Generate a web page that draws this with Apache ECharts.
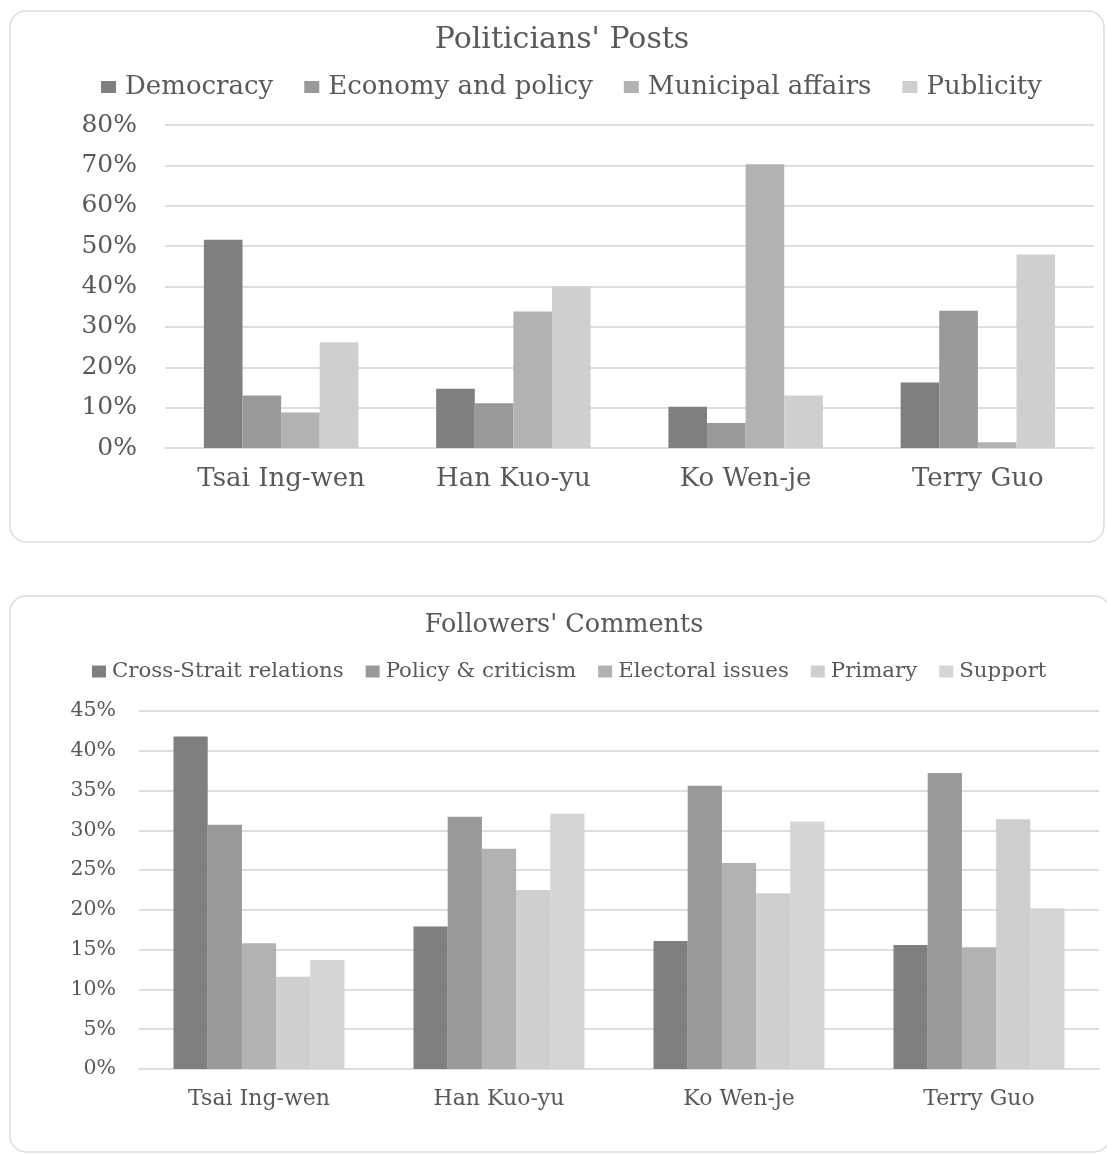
<!DOCTYPE html>
<html>
<head>
<meta charset="utf-8">
<title>Politicians' Posts / Followers' Comments</title>
<script src="https://cdn.jsdelivr.net/npm/echarts@6/dist/echarts.min.js"></script>
<style>
  html, body { margin: 0; padding: 0; background: #fff; }
  #chart { width: 1107px; height: 1155px; }
</style>
</head>
<body>
<div id="chart"></div>
<script>
// categories shared by both charts
const politicians = ['Tsai Ing-wen', 'Han Kuo-yu', 'Ko Wen-je', 'Terry Guo']

// Politicians' Posts (%)
const postNames = ['Democracy', 'Economy and policy', 'Municipal affairs', 'Publicity']
const postDemocracy = [51.6, 14.7, 10.2, 16.2]
const postEconomy = [13.0, 11.1, 6.2, 34.0]
const postMunicipal = [8.8, 33.8, 70.3, 1.4]
const postPublicity = [26.2, 40.0, 13.0, 47.9]
const postTicks = [0, 10, 20, 30, 40, 50, 60, 70, 80]

// Followers' Comments (%)
const commentNames = ['Cross-Strait relations', 'Policy & criticism', 'Electoral issues', 'Primary', 'Support']
const commentCross = [41.8, 17.9, 16.1, 15.6]
const commentPolicy = [30.7, 31.7, 35.6, 37.2]
const commentElectoral = [15.8, 27.7, 25.9, 15.3]
const commentPrimary = [11.6, 22.5, 22.1, 31.4]
const commentSupport = [13.7, 32.1, 31.1, 20.2]
const commentTicks = [0, 5, 10, 15, 20, 25, 30, 35, 40, 45]

const FONT = 'DejaVu Serif'
const TEXT = '#595959'
const GRID = '#dedede'

const postColors = ['#7f7f7f', '#999999', '#b2b2b2', '#cfcfcf']
const commentColors = ['#7f7f7f', '#999999', '#b2b2b2', '#cfcfcf', '#d5d5d5']

function barSeries(name, data, color, idx, gap) {
  return {
    name: name,
    type: 'bar',
    xAxisIndex: idx,
    yAxisIndex: idx,
    data: data,
    barGap: 0,
    barCategoryGap: gap,
    itemStyle: { color: color },
    emphasis: { disabled: true }
  }
}

function xAxis(idx, size, margin) {
  return {
    type: 'category',
    gridIndex: idx,
    data: politicians,
    axisTick: { show: false },
    axisLine: { lineStyle: { color: GRID, width: 2 } },
    axisLabel: { color: TEXT, fontFamily: FONT, fontSize: size, margin: margin }
  }
}

function yAxis(idx, ticks, size, margin) {
  return {
    type: 'value',
    gridIndex: idx,
    min: ticks[0],
    max: ticks[ticks.length - 1],
    interval: ticks[1] - ticks[0],
    axisLine: { show: false },
    axisTick: { show: false },
    axisLabel: { color: TEXT, fontFamily: FONT, fontSize: size, margin: margin, formatter: '{value}%' },
    splitLine: { show: true, lineStyle: { color: GRID, width: 2 } }
  }
}

// Excel leaves a wider gap after "Primary"
const commentLegend = commentNames.map(function (n) {
  return n === 'Primary' ? { name: n, textStyle: { padding: [0, 8, 0, 1] } } : n
})

const chart = echarts.init(document.getElementById('chart'))
chart.setOption({
  animation: false,
  graphic: [
    {
      type: 'rect',
      shape: { x: 10, y: 11, width: 1094, height: 531, r: 16 },
      style: { fill: 'none', stroke: '#dcdcdc', lineWidth: 1.5 },
      silent: true
    },
    {
      type: 'rect',
      shape: { x: 10, y: 596, width: 1100, height: 556, r: 16 },
      style: { fill: 'none', stroke: '#dcdcdc', lineWidth: 1.5 },
      silent: true
    },
    {
      type: 'text',
      style: { text: "Politicians' Posts", x: 562, y: 40, align: 'center', verticalAlign: 'middle',
        fill: TEXT, font: '30px "DejaVu Serif"' },
      silent: true
    },
    {
      type: 'text',
      style: { text: "Followers' Comments", x: 564, y: 625, align: 'center', verticalAlign: 'middle',
        fill: TEXT, font: '25.5px "DejaVu Serif"' },
      silent: true
    }
  ],
  legend: [
    {
      data: postNames,
      left: 96,
      top: 69,
      itemWidth: 15,
      itemHeight: 12,
      itemGap: 31,
      icon: 'rect',
      textStyle: { color: TEXT, fontFamily: FONT, fontSize: 26, padding: [0, 0, 0, 4] }
    },
    {
      data: commentLegend,
      left: 87,
      top: 656,
      itemWidth: 14,
      itemHeight: 12,
      itemGap: 22,
      icon: 'rect',
      textStyle: { color: TEXT, fontFamily: FONT, fontSize: 21.3, padding: [0, 0, 0, 1] }
    }
  ],
  grid: [
    { left: 165, top: 125, width: 929, height: 323 },
    { left: 139, top: 711, width: 960, height: 358 }
  ],
  xAxis: [xAxis(0, 26, 18), xAxis(1, 22, 19)],
  yAxis: [yAxis(0, postTicks, 25, 28), yAxis(1, commentTicks, 20.5, 23)],
  series: [
    barSeries(postNames[0], postDemocracy, postColors[0], 0, '33.5%'),
    barSeries(postNames[1], postEconomy, postColors[1], 0, '33.5%'),
    barSeries(postNames[2], postMunicipal, postColors[2], 0, '33.5%'),
    barSeries(postNames[3], postPublicity, postColors[3], 0, '33.5%'),
    barSeries(commentNames[0], commentCross, commentColors[0], 1, '28.75%'),
    barSeries(commentNames[1], commentPolicy, commentColors[1], 1, '28.75%'),
    barSeries(commentNames[2], commentElectoral, commentColors[2], 1, '28.75%'),
    barSeries(commentNames[3], commentPrimary, commentColors[3], 1, '28.75%'),
    barSeries(commentNames[4], commentSupport, commentColors[4], 1, '28.75%')
  ]
})
</script>
</body>
</html>
